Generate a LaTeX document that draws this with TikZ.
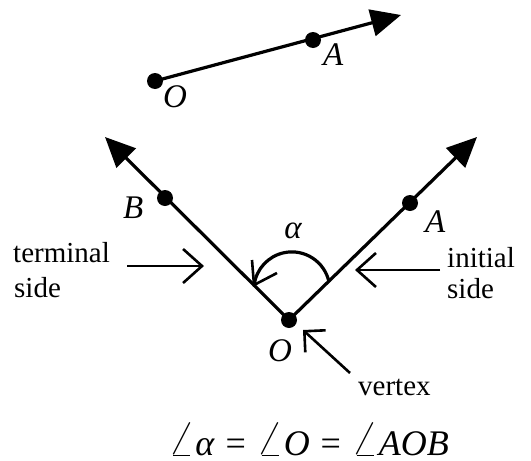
\documentclass[tikz,border=0pt]{standalone}
\usepackage{fontspec}
\usepackage{graphicx}
\setmainfont{Liberation Serif}
\usetikzlibrary{arrows.meta}
\newcommand{\bigang}{\scalebox{1.4}{$\angle$}}
\newcommand{\gap}{\hspace{0.3em}}
\begin{document}
\begin{tikzpicture}[x=1pt,y=-1pt,
  ray/.style={line width=3.2pt,-{Triangle[length=30pt,width=27pt]}},
  seg/.style={line width=3.2pt},
  pointer/.style={line width=2.6pt,-{Straight Barb[length=19pt,width=34pt]}},
  dot/.style={circle,fill=black,inner sep=0pt,minimum size=16pt},
  lab/.style={inner sep=0pt,anchor=base west,font=\fontsize{33}{36}\selectfont\itshape},
  txt/.style={inner sep=0pt,anchor=base west,font=\fontsize{29}{34}\selectfont}]
\useasboundingbox (0,0) rectangle (531,461);
% top ray
\node[dot] (O1) at (155,81) {};
\node[dot] (A1) at (313,40) {};
\coordinate (T1) at (401,15);
\draw[ray] (O1.center) -- (T1);
\node[lab] (lA1) at (323,65) {A};
\node[lab] (lO1) at (163,107) {O};
% main angle
\node[dot] (V) at (289,320) {};
\coordinate (Ltip) at (105,137);
\coordinate (Rtip) at (477,137);
\node[dot] (B) at (165,198) {};
\node[dot] (A) at (410,203) {};
\draw[ray] (V.center) -- (Ltip);
\draw[ray] (V.center) -- (Rtip);
\node[lab] (lB) at (123,218) {B};
\node[lab] (lA) at (425,232) {A};
\node[lab] (lO) at (268,361) {O};
% angle arc
\coordinate (arcS) at (329,282);
\coordinate (arcE) at (254,285);
\draw[seg] (arcS) arc[start angle=-12,end angle=-172.5,radius=38];
\coordinate (bar1) at (252,260);
\coordinate (bar2) at (277,273);
\draw[line width=2.6pt] (bar1) -- (arcE) -- (bar2);
\node[lab,anchor=base] (alpha) at (293,238) {α};
% pointers
\coordinate (tS) at (127,266);
\coordinate (tE) at (204,266);
\draw[pointer] (tS) -- (tE);
\node[txt] (term1) at (13,262) {terminal};
\node[txt] (term2) at (14,297) {side};
\coordinate (iS) at (440,270);
\coordinate (iE) at (355,270);
\draw[pointer] (iS) -- (iE);
\node[txt] (init1) at (447,267) {initial};
\node[txt] (init2) at (447,298) {side};
\coordinate (vS) at (350,373);
\coordinate (vE) at (303,330);
\draw[line width=2.6pt,-{Straight Barb[length=15pt,width=30pt]}] (vS) -- (vE);
\node[txt] (vtx) at (358,395) {vertex};
% formula
\node[lab,font=\fontsize{36}{40}\selectfont] (formula) at (168,455) {\bigang\textit{α}\gap=\gap\bigang\textit{O}\gap=\gap\bigang\textit{AOB}};
\end{tikzpicture}
\end{document}
